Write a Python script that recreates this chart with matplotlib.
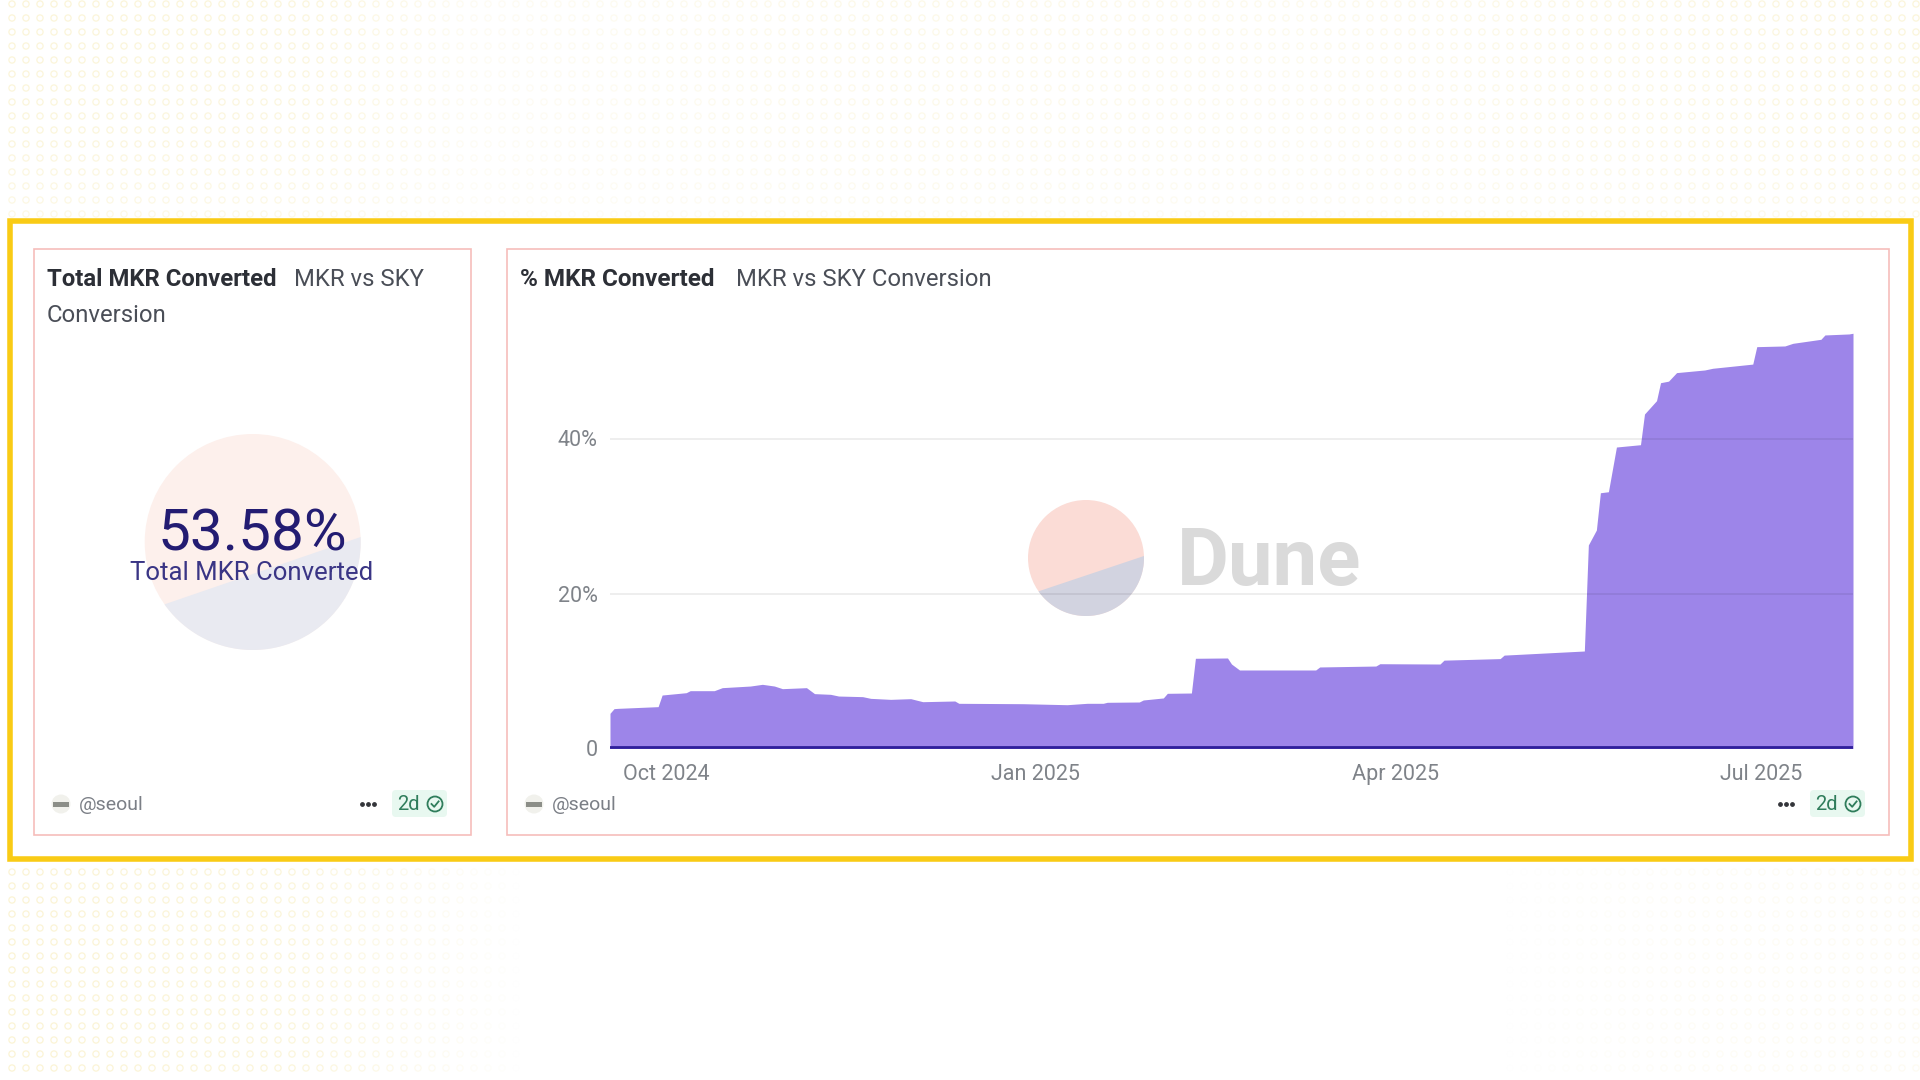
import numpy as np
import pandas as pd
import matplotlib
matplotlib.use("Agg")
import matplotlib.pyplot as plt
from matplotlib.patches import Circle, Rectangle, FancyBboxPatch, Polygon
from matplotlib.ticker import FuncFormatter

plt.rcParams['font.family'] = ['Roboto', 'DejaVu Sans']

# ---- data ----
dates = ["2024-09-17","2024-09-18","2024-09-19","2024-09-29","2024-09-30","2024-10-06","2024-10-07",
         "2024-10-13","2024-10-15","2024-10-22","2024-10-25","2024-10-28","2024-10-30","2024-11-05",
         "2024-11-07","2024-11-11","2024-11-13","2024-11-19","2024-11-21","2024-11-26","2024-12-01",
         "2024-12-04","2024-12-12","2024-12-13","2024-12-29","2025-01-09","2025-01-14","2025-01-18",
         "2025-01-19","2025-01-27","2025-01-28","2025-02-02","2025-02-03","2025-02-09","2025-02-10",
         "2025-02-18","2025-02-19","2025-02-21","2025-03-12","2025-03-13","2025-03-27","2025-03-28",
         "2025-04-12","2025-04-13","2025-04-27","2025-04-28","2025-05-18","2025-05-19","2025-05-21",
         "2025-05-22","2025-05-24","2025-05-26","2025-06-01","2025-06-02","2025-06-05","2025-06-06",
         "2025-06-08","2025-06-10","2025-06-17","2025-06-19","2025-06-29","2025-06-30","2025-07-07",
         "2025-07-09","2025-07-16","2025-07-17","2025-07-23","2025-07-24"]
pct_converted = [4.54,5.14,5.18,5.40,6.90,7.20,7.46,
                 7.46,7.85,8.06,8.28,8.06,7.72,7.85,
                 7.08,6.99,6.77,6.69,6.47,6.34,6.43,
                 6.04,6.13,5.83,5.78,5.65,5.83,5.83,
                 5.96,6.00,6.26,6.52,7.12,7.16,11.64,
                 11.68,10.90,10.13,10.13,10.52,10.64,10.94,
                 10.90,11.40,11.60,12.05,12.58,26.26,28.19,
                 33.00,33.13,38.90,39.20,43.16,44.88,47.20,
                 47.40,48.50,48.84,49.06,49.60,51.85,51.94,
                 52.28,52.80,53.36,53.49,53.58]
y_ticks = [0, 20, 40]
x_ticks = ["2024-10-01", "2025-01-01", "2025-04-01", "2025-07-01"]
x_tick_labels = ["Oct 2024", "Jan 2025", "Apr 2025", "Jul 2025"]
counter_value = "53.58%"
counter_label = "Total MKR Converted"
card_titles = ["Total MKR Converted", "% MKR Converted"]
card_subtitle = "MKR vs SKY"
author = "@seoul"
age = "2d"

W, H = 1920, 1080
fig = plt.figure(figsize=(W/100, H/100), dpi=100, facecolor="white")

# full-figure pixel overlay
bg = fig.add_axes([0, 0, 1, 1], zorder=0)
bg.set_xlim(0, W); bg.set_ylim(H, 0); bg.axis("off")

# dotted background: faint rings, stronger in the corners
gx, gy = np.meshgrid(np.arange(12, W, 14), np.arange(4, H, 14))
gx, gy = gx.ravel(), gy.ravel()
alpha = np.zeros(gx.size)
is_top = gy < 216
is_bot = gy > 866
alpha[is_top] = np.interp(gx[is_top], [0, 320, 480, 900, 1300, 1920], [0.30, 0.26, 0.09, 0.18, 0.14, 0.28])
alpha[is_top] *= np.interp(gy[is_top], [0, 140, 216], [1.0, 0.9, 0.65])
alpha[is_bot] = np.interp(gx[is_bot], [0, 300, 520, 1500, 1700, 1920], [0.32, 0.27, 0.0, 0.0, 0.07, 0.10])
colors = np.zeros((gx.size, 4))
colors[:, :3] = matplotlib.colors.to_rgb("#F2DC7A")
colors[:, 3] = alpha
bg.scatter(gx, gy, s=20, facecolors="none", edgecolors=colors, linewidths=0.9)

# yellow frame
bg.add_patch(Rectangle((9.5, 220.5), 1901, 638.5, fc="white", ec="#F9CB15", lw=4.0, zorder=1))
# cards
for (x0, x1) in [(33.5, 470.5), (506.5, 1888.5)]:
    bg.add_patch(Rectangle((x0, 248.5), x1 - x0, 586.5, fc="white", ec="#F6BDBB", lw=1.2, zorder=2))


def half_disc(ax, cx, cy, r, p0, p1, top, bottom, z):
    """Disc of two colours split along the chord p0 (left) - p1 (right)."""
    a0 = np.arctan2(p0[1] - cy, p0[0] - cx)
    a1 = np.arctan2(p1[1] - cy, p1[0] - cx)
    ax.add_patch(Circle((cx, cy), r, fc=top, ec="none", zorder=z))
    t = np.linspace(a1, a0, 80)
    pts = np.column_stack([cx + r*np.cos(t), cy + r*np.sin(t)])
    ax.add_patch(Polygon(pts, closed=True, fc=bottom, ec="none", zorder=z + 0.1))


half_disc(bg, 252.7, 542, 108, (165, 604), (361, 537), "#FDF0EC", "#E9EAF1", 3)
half_disc(bg, 1086, 558, 58, (1039, 591), (1144, 556), "#FBDCD6", "#D2D3E0", 3)
bg.text(1177, 564, "Dune", fontsize=57.5, fontweight="bold", color="#DADADA", ha="left", va="center", zorder=3)

# counter
bg.text(252, 535, counter_value, fontsize=42, color="#231C72", ha="center", va="center", zorder=5)
bg.text(252, 573, counter_label, fontsize=18.5, color="#3A3585", ha="center", va="center", zorder=5)

# card headers
DARK = "#2C2F36"; MID = "#4A4E57"
TS = 17.2
bg.text(47, 279, card_titles[0], fontsize=TS, fontweight="bold", color=DARK, va="center", zorder=5)
bg.text(294, 279, card_subtitle, fontsize=TS, color=MID, va="center", zorder=5)
bg.text(47, 315, "Conversion", fontsize=TS, color=MID, va="center", zorder=5)
bg.text(520, 279, card_titles[1], fontsize=17.5, fontweight="bold", color=DARK, va="center", zorder=5)
bg.text(736, 279, card_subtitle + " Conversion", fontsize=17.2, color=MID, va="center", zorder=5)

# card footers
for ax_x, dots_x, badge_x in [(61, 368, 390), (534, 1786, 1808)]:
    bg.add_patch(Circle((ax_x, 804), 9.5, fc="#F1F1EC", ec="none", zorder=5))
    bg.add_patch(Rectangle((ax_x - 8, 801.5), 16, 5, fc="#8C8E88", ec="none", zorder=6))
    bg.text(ax_x + 18, 804.5, author, fontsize=14, color="#7B7F86", va="center", zorder=5)
    bg.scatter([dots_x - 6, dots_x, dots_x + 6], [803.5]*3, s=6, color="#33353A", zorder=5)
    bg.add_patch(FancyBboxPatch((badge_x + 2, 790), 55, 27, boxstyle="round,pad=0,rounding_size=4",
                                fc="#E8F8F0", ec="none", zorder=5))
    bg.text(badge_x + 18, 804.5, age, fontsize=14.5, color="#2F7D5B", ha="center", va="center", zorder=6)
    cx = badge_x + 45
    bg.add_patch(Circle((cx, 804), 7.5, fc="none", ec="#2F7D5B", lw=1.3, zorder=6))
    bg.plot([cx - 3.5, cx - 0.8, cx + 3.6], [804, 806.8, 801.4], color="#2F7D5B", lw=1.3, zorder=6)

# chart axes
PX_PER_PCT = 7.75
y_top = 60
x_dates = pd.to_datetime(dates)
ax_l, ax_r, ax_b = 610, 1853, 748.5
ax_t = ax_b - y_top * PX_PER_PCT
ax = fig.add_axes([ax_l/W, 1 - ax_b/H, (ax_r - ax_l)/W, (ax_b - ax_t)/H], zorder=2)
ax.patch.set_alpha(0)
ax.fill_between(x_dates, 0, pct_converted, color="#9D85E9", lw=0, zorder=2)
ax.set_xlim(x_dates[0], x_dates[-1])
ax.set_ylim(0, y_top)
for s in ax.spines.values():
    s.set_visible(False)
for v in y_ticks[1:]:
    ax.axhline(v, color="black", alpha=0.08, lw=1.2, zorder=3)
ax.axhline(0.14, color="#2F1F9B", lw=2.0, zorder=4)
ax.set_yticks(y_ticks)
ax.yaxis.set_major_formatter(FuncFormatter(lambda v, _: "0" if v == 0 else f"{int(v)}%"))
ax.set_xticks(pd.to_datetime(x_ticks))
ax.set_xticklabels(x_tick_labels)
ax.tick_params(axis="both", length=0, labelsize=15.5, labelcolor="#7F8389")
ax.tick_params(axis="x", pad=11)
ax.tick_params(axis="y", pad=9)

fig.savefig("out.png", dpi=100)
